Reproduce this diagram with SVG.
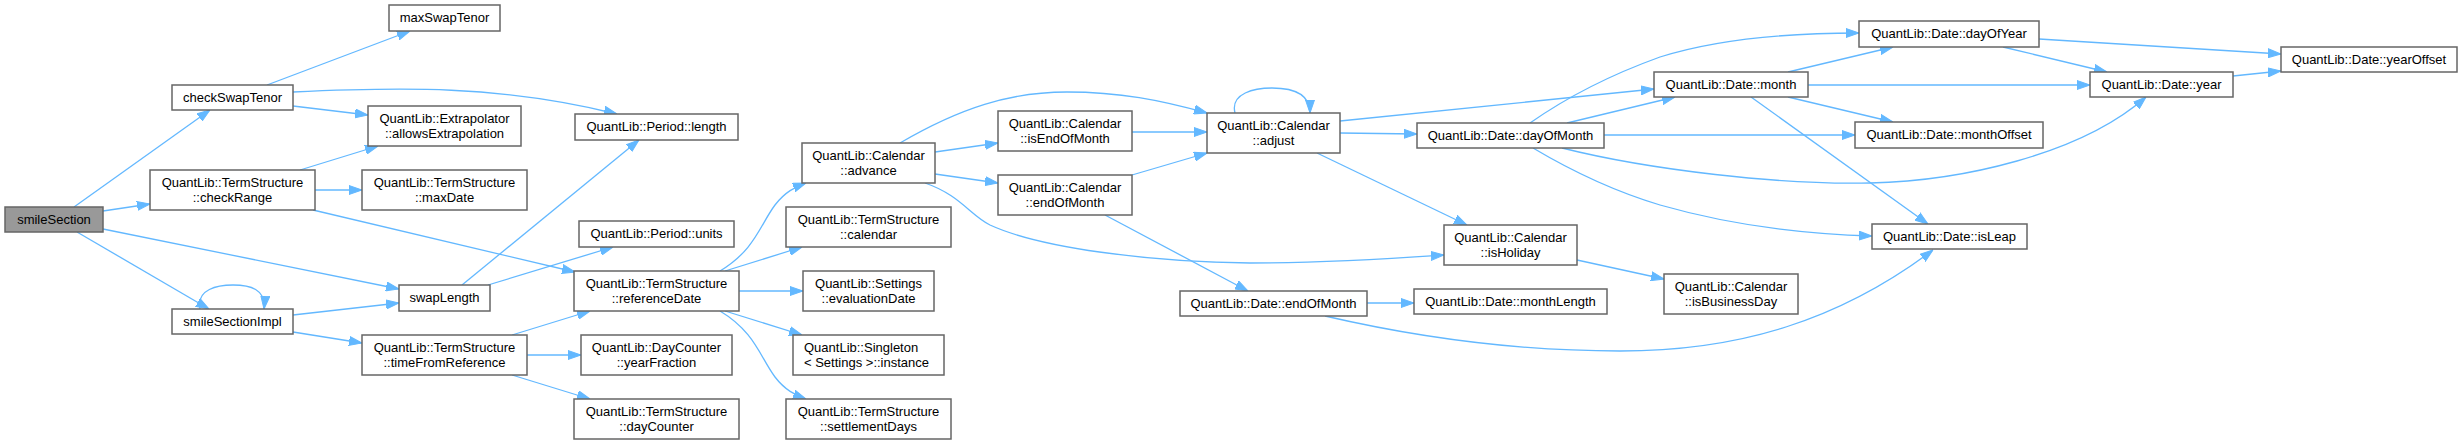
<svg xmlns="http://www.w3.org/2000/svg" width="2463" height="445" viewBox="0 0 2463 445">
<defs>
<style>
.n rect{fill:#ffffff;stroke:#666666;stroke-width:1.5}
.n.root rect{fill:#999999}
.n text{font-family:"Liberation Sans",Arial,sans-serif;font-size:13px;fill:#000000;text-anchor:middle}
.n text.l{text-anchor:start}
#edges path{fill:none;stroke:#63b8ff;stroke-width:1.3;marker-end:url(#arr)}
</style>
<marker id="arr" viewBox="0 0 13 10" refX="13" refY="5" markerWidth="13" markerHeight="10" markerUnits="userSpaceOnUse" orient="auto">
<path d="M0,0.5 L13,5 L0,9.5 z" fill="#63b8ff" stroke="#63b8ff" stroke-width="1"/>
</marker>
</defs>
<rect width="2463" height="445" fill="#ffffff"/>
<g id="edges">
<path d="M74,207 L210,110"/>
<path d="M103,211 L150,204"/>
<path d="M103,229 L399,289"/>
<path d="M77,232 L209,309"/>
<path d="M200,309 C196,289 218,285 233,285 C250,285 266,289 264,309"/>
<path d="M293,315 L399,303"/>
<path d="M293,332 L362,343"/>
<path d="M267,85 L410,31"/>
<path d="M293,92 C400,87 500,85 617,114"/>
<path d="M293,106 L368,115"/>
<path d="M300,170 L378,146"/>
<path d="M315,190 L362,190"/>
<path d="M313,210 L575,272"/>
<path d="M462,285 L639,140"/>
<path d="M488,285 L613,247"/>
<path d="M512,335 L590,311"/>
<path d="M527,355 L581,355"/>
<path d="M512,375 L590,399"/>
<path d="M720,271 C755,250 760,225 775,205 C785,192 795,187 806,183"/>
<path d="M725,271 L802,247"/>
<path d="M739,291 L803,291"/>
<path d="M725,311 L802,335"/>
<path d="M720,311 C755,332 760,357 775,377 C785,390 795,395 806,399"/>
<path d="M900,143 C960,108 1010,92 1067,92 C1120,92 1160,100 1207,113"/>
<path d="M935,152 L998,143"/>
<path d="M935,174 L998,183"/>
<path d="M925,183 C960,195 970,215 990,225 C1040,248 1150,262 1250,263 C1330,263 1400,258 1444,255"/>
<path d="M1132,132 L1207,132"/>
<path d="M1132,175 L1207,153"/>
<path d="M1105,215 L1248,291"/>
<path d="M1235,113 C1230,93 1255,88 1272,88 C1290,88 1310,92 1310,113"/>
<path d="M1340,133 L1417,134"/>
<path d="M1317,153 L1467,225"/>
<path d="M1340,121 L1654,89"/>
<path d="M1530,123 C1570,95 1610,75 1660,57 C1720,38 1790,33 1859,33"/>
<path d="M1567,123 L1675,97"/>
<path d="M1604,135 L1855,135"/>
<path d="M1562,148 C1650,170 1780,185 1870,183 C1960,181 2080,155 2146,97"/>
<path d="M1533,148 C1570,170 1610,190 1660,205 C1730,225 1800,234 1872,236"/>
<path d="M1577,260 L1664,279"/>
<path d="M1367,303 L1414,303"/>
<path d="M1325,316 C1420,338 1520,351 1620,351 C1740,351 1840,320 1933,250"/>
<path d="M1788,72 L1893,47"/>
<path d="M1808,85 L2090,85"/>
<path d="M1788,97 L1893,122"/>
<path d="M1751,97 L1928,224"/>
<path d="M2039,39 L2281,54"/>
<path d="M2003,47 L2107,72"/>
<path d="M2233,76 L2281,71"/>
</g>
<g id="smileSection" class="n root"><rect x="5" y="207" width="98" height="25"/><text x="54" y="223.5">smileSection</text></g>
<g id="checkSwapTenor" class="n"><rect x="172" y="85" width="121" height="25"/><text x="232.5" y="101.5">checkSwapTenor</text></g>
<g id="checkRange" class="n"><rect x="150" y="170" width="165" height="40"/><text x="232.5" y="186.5">QuantLib::TermStructure</text><text x="232.5" y="201.5">::checkRange</text></g>
<g id="smileSectionImpl" class="n"><rect x="172" y="309" width="121" height="25"/><text x="232.5" y="325.5">smileSectionImpl</text></g>
<g id="maxSwapTenor" class="n"><rect x="389" y="5" width="111" height="26"/><text x="444.5" y="22">maxSwapTenor</text></g>
<g id="allowsExtrapolation" class="n"><rect x="368" y="106" width="153" height="40"/><text x="444.5" y="122.5">QuantLib::Extrapolator</text><text x="444.5" y="137.5">::allowsExtrapolation</text></g>
<g id="maxDate" class="n"><rect x="362" y="170" width="165" height="40"/><text x="444.5" y="186.5">QuantLib::TermStructure</text><text x="444.5" y="201.5">::maxDate</text></g>
<g id="swapLength" class="n"><rect x="399" y="285" width="91" height="26"/><text x="444.5" y="302">swapLength</text></g>
<g id="timeFromReference" class="n"><rect x="362" y="335" width="165" height="40"/><text x="444.5" y="351.5">QuantLib::TermStructure</text><text x="444.5" y="366.5">::timeFromReference</text></g>
<g id="periodLength" class="n"><rect x="575" y="114" width="163" height="26"/><text x="656.5" y="131">QuantLib::Period::length</text></g>
<g id="periodUnits" class="n"><rect x="579" y="221" width="155" height="26"/><text x="656.5" y="238">QuantLib::Period::units</text></g>
<g id="referenceDate" class="n"><rect x="574" y="271" width="165" height="40"/><text x="656.5" y="287.5">QuantLib::TermStructure</text><text x="656.5" y="302.5">::referenceDate</text></g>
<g id="yearFraction" class="n"><rect x="581" y="335" width="151" height="40"/><text x="656.5" y="351.5">QuantLib::DayCounter</text><text x="656.5" y="366.5">::yearFraction</text></g>
<g id="dayCounter" class="n"><rect x="574" y="399" width="165" height="40"/><text x="656.5" y="415.5">QuantLib::TermStructure</text><text x="656.5" y="430.5">::dayCounter</text></g>
<g id="advance" class="n"><rect x="802" y="143" width="133" height="40"/><text x="868.5" y="159.5">QuantLib::Calendar</text><text x="868.5" y="174.5">::advance</text></g>
<g id="calendar" class="n"><rect x="786" y="207" width="165" height="40"/><text x="868.5" y="223.5">QuantLib::TermStructure</text><text x="868.5" y="238.5">::calendar</text></g>
<g id="evaluationDate" class="n"><rect x="803" y="271" width="131" height="40"/><text x="868.5" y="287.5">QuantLib::Settings</text><text x="868.5" y="302.5">::evaluationDate</text></g>
<g id="instance" class="n"><rect x="793" y="335" width="151" height="40"/><text class="l" x="804" y="351.5">QuantLib::Singleton</text><text class="l" x="804" y="366.5">&lt; Settings &gt;::instance</text></g>
<g id="settlementDays" class="n"><rect x="786" y="399" width="165" height="40"/><text x="868.5" y="415.5">QuantLib::TermStructure</text><text x="868.5" y="430.5">::settlementDays</text></g>
<g id="isEndOfMonth" class="n"><rect x="998" y="111" width="134" height="40"/><text x="1065" y="127.5">QuantLib::Calendar</text><text x="1065" y="142.5">::isEndOfMonth</text></g>
<g id="calEndOfMonth" class="n"><rect x="998" y="175" width="134" height="40"/><text x="1065" y="191.5">QuantLib::Calendar</text><text x="1065" y="206.5">::endOfMonth</text></g>
<g id="adjust" class="n"><rect x="1207" y="113" width="133" height="40"/><text x="1273.5" y="129.5">QuantLib::Calendar</text><text x="1273.5" y="144.5">::adjust</text></g>
<g id="dayOfMonth" class="n"><rect x="1417" y="123" width="187" height="25"/><text x="1510.5" y="139.5">QuantLib::Date::dayOfMonth</text></g>
<g id="isHoliday" class="n"><rect x="1444" y="225" width="133" height="40"/><text x="1510.5" y="241.5">QuantLib::Calendar</text><text x="1510.5" y="256.5">::isHoliday</text></g>
<g id="dateEndOfMonth" class="n"><rect x="1180" y="291" width="187" height="25"/><text x="1273.5" y="307.5">QuantLib::Date::endOfMonth</text></g>
<g id="monthLength" class="n"><rect x="1414" y="289" width="193" height="25"/><text x="1510.5" y="305.5">QuantLib::Date::monthLength</text></g>
<g id="dayOfYear" class="n"><rect x="1859" y="21" width="180" height="26"/><text x="1949" y="38">QuantLib::Date::dayOfYear</text></g>
<g id="month" class="n"><rect x="1654" y="72" width="154" height="25"/><text x="1731" y="88.5">QuantLib::Date::month</text></g>
<g id="monthOffset" class="n"><rect x="1855" y="122" width="188" height="26"/><text x="1949" y="139">QuantLib::Date::monthOffset</text></g>
<g id="isLeap" class="n"><rect x="1872" y="224" width="155" height="25"/><text x="1949.5" y="240.5">QuantLib::Date::isLeap</text></g>
<g id="isBusinessDay" class="n"><rect x="1664" y="274" width="134" height="40"/><text x="1731" y="290.5">QuantLib::Calendar</text><text x="1731" y="305.5">::isBusinessDay</text></g>
<g id="year" class="n"><rect x="2090" y="72" width="143" height="25"/><text x="2161.5" y="88.5">QuantLib::Date::year</text></g>
<g id="yearOffset" class="n"><rect x="2281" y="47" width="176" height="25"/><text x="2369" y="63.5">QuantLib::Date::yearOffset</text></g>
</svg>
